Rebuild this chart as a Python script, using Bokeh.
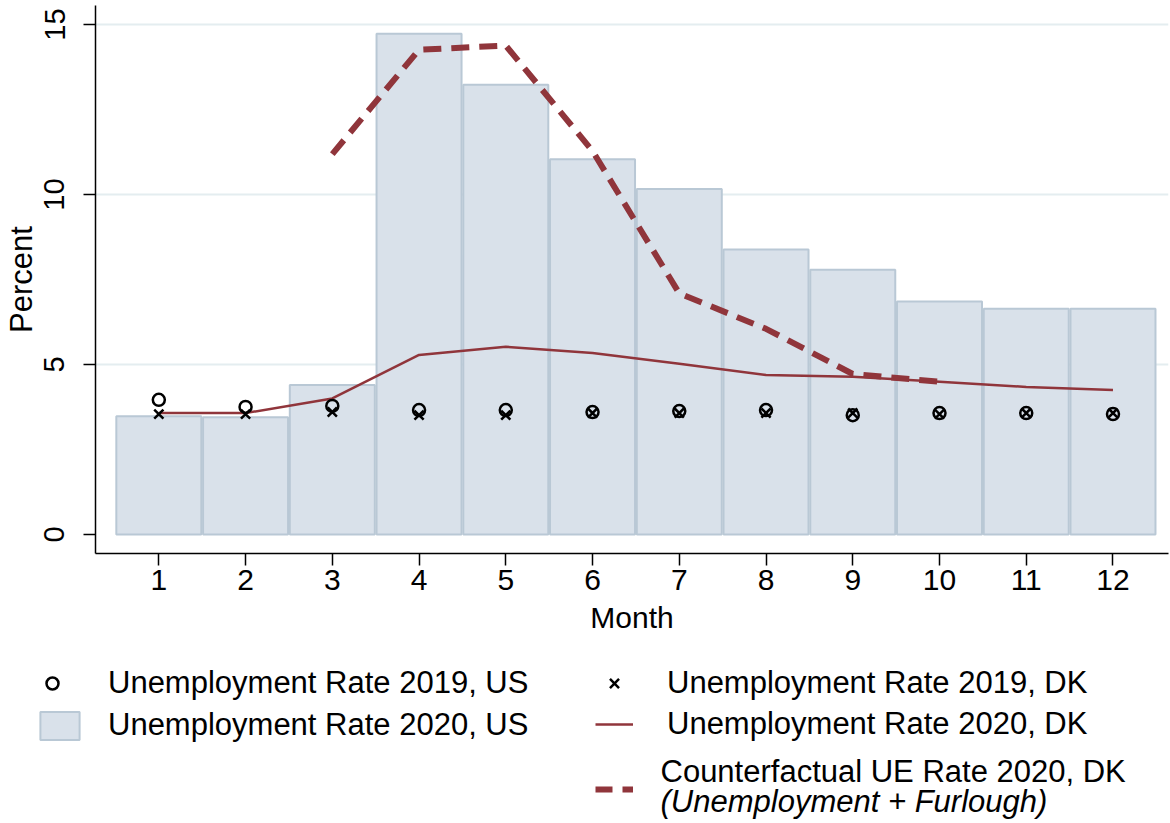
from bokeh.plotting import figure
from bokeh.models import Legend, LegendItem, Range1d, FixedTicker, Label
from bokeh.embed import file_html
from bokeh.resources import INLINE

months = list(range(1, 13))
us_2019 = [3.96, 3.75, 3.78, 3.66, 3.66, 3.60, 3.63, 3.66, 3.51, 3.57, 3.57, 3.54]
us_2020 = [3.48, 3.45, 4.40, 14.73, 13.23, 11.04, 10.16, 8.38, 7.79, 6.85, 6.64, 6.64]
dk_2019 = [3.54, 3.54, 3.60, 3.51, 3.51, 3.57, 3.57, 3.57, 3.57, 3.54, 3.57, 3.57]
dk_2020 = [3.57, 3.57, 4.00, 5.28, 5.52, 5.34, 5.02, 4.69, 4.64, 4.49, 4.34, 4.25]
cf_months = [3, 4, 5, 6, 7, 8, 9, 10]
cf_2020 = [11.19, 14.26, 14.38, 11.28, 7.09, 6.05, 4.72, 4.49]
y_ticks = [0, 5, 10, 15]

FONT = "Liberation Sans"
RED = "#90353b"
BAR_FILL = "#d9e1ea"
BAR_LINE = "#b9c8d5"
NAN = float("nan")

bar_style = dict(fill_color=BAR_FILL, line_color=BAR_LINE, line_width=2)
dk20_style = dict(line_color=RED, line_width=2.5)
cf_style = dict(line_color=RED, line_width=6, line_dash="18 10")
us19_style = dict(marker="circle", fill_color=None, line_color="black", line_width=2.5)
dk19_style = dict(marker="x", line_color="black", line_width=2.5)

# ---------------- main plot ----------------
p = figure(width=1170, height=650, x_range=Range1d(0.27, 12.64), y_range=Range1d(-0.56, 15.56),
           output_backend="svg", toolbar_location=None,
           min_border_left=95, min_border_right=2, min_border_top=5, min_border_bottom=97)
p.outline_line_color = None
p.xgrid.visible = False
p.ygrid.ticker = FixedTicker(ticks=[5, 10, 15])
p.ygrid.grid_line_color = "#e4edf0"
p.ygrid.grid_line_width = 2

p.vbar(x=months, top=us_2020, bottom=0, width=0.98, **bar_style)
p.line(months, dk_2020, **dk20_style)
p.line(cf_months, cf_2020, **cf_style)
p.scatter(months, us_2019, size=12, **us19_style)
p.scatter(months, dk_2019, size=13, **dk19_style)

p.xaxis.ticker = FixedTicker(ticks=months)
p.yaxis.ticker = FixedTicker(ticks=y_ticks)
p.xaxis.axis_label = "Month"
p.yaxis.axis_label = "Percent"
for ax in (p.xaxis, p.yaxis):
    ax.axis_line_color = "black"
    ax.axis_line_width = 1.5
    ax.major_tick_line_color = "black"
    ax.major_tick_line_width = 1.5
    ax.major_tick_out = 12
    ax.major_tick_in = 0
    ax.minor_tick_line_color = None
    ax.major_label_text_font = FONT
    ax.major_label_text_color = "black"
    ax.axis_label_text_font = FONT
    ax.axis_label_text_font_style = "normal"
    ax.axis_label_text_color = "black"
p.xaxis.major_label_text_font_size = "30px"
p.yaxis.major_label_text_font_size = "29px"
p.xaxis.axis_label_text_font_size = "30px"
p.yaxis.axis_label_text_font_size = "31px"
p.yaxis.major_label_orientation = "vertical"
p.xaxis.major_label_standoff = 4
p.xaxis.axis_label_standoff = 8
p.yaxis.major_label_standoff = 19
p.yaxis.axis_label_standoff = 3

# ---------------- legend panel (separate root, canvas px == data units) ----------------
LH = 173
lg = figure(width=1170, height=LH, x_range=Range1d(0, 1170), y_range=Range1d(0, LH),
            output_backend="svg", toolbar_location=None,
            x_axis_location=None, y_axis_location=None,
            min_border=0, min_border_left=0, min_border_right=0, min_border_top=0, min_border_bottom=0)
lg.grid.visible = False
lg.outline_line_color = None

s_us19 = lg.scatter([NAN], [NAN], size=9, **us19_style)
s_us20 = lg.vbar(x=[NAN], top=[NAN], width=1, **bar_style)
s_dk19 = lg.scatter([NAN], [NAN], size=11, **dk19_style)
s_dk20 = lg.line([NAN, NAN], [NAN, NAN], **dk20_style)
s_cf = lg.line([NAN, NAN], [NAN, NAN], line_color=RED, line_width=6, line_dash="17 10")

def y_up(page_y):
    return 823 - page_y

common = dict(orientation="vertical", padding=0, margin=0, spacing=5,
              border_line_color=None, background_fill_alpha=0,
              label_text_font=FONT, label_text_font_size="31px", label_text_color="black",
              glyph_height=32, label_height=32)

leg_us19 = Legend(items=[LegendItem(label="Unemployment Rate 2019, US", renderers=[s_us19])],
                  location=(37, y_up(701)), glyph_width=30, label_standoff=41, **common)
leg_us20 = Legend(items=[LegendItem(label="Unemployment Rate 2020, US", renderers=[s_us20])],
                  location=(35, y_up(743)), glyph_width=49, label_standoff=24, glyph_height=35,
                  **{k: v for k, v in common.items() if k != "glyph_height"})
leg2 = Legend(items=[LegendItem(label="Unemployment Rate 2019, DK", renderers=[s_dk19]),
                     LegendItem(label="Unemployment Rate 2020, DK", renderers=[s_dk20])],
              location=(595, y_up(742)), glyph_width=38, label_standoff=34, **common)
leg3 = Legend(items=[LegendItem(label=" ", renderers=[s_cf])],
              location=(595, y_up(805)), glyph_width=38, label_standoff=0, **common)
lg.add_layout(leg_us19)
lg.add_layout(leg_us20)
lg.add_layout(leg2)
lg.add_layout(leg3)

lg.add_layout(Label(x=660, y=y_up(771), text="Counterfactual UE Rate 2020, DK",
                    text_font=FONT, text_font_size="31px", text_baseline="middle", text_color="black"))
lg.add_layout(Label(x=660, y=y_up(801), text="(Unemployment + Furlough)",
                    text_font=FONT, text_font_size="31px", text_font_style="italic",
                    text_baseline="middle", text_color="black"))

open("out.html", "w").write(file_html([p, lg], INLINE))
